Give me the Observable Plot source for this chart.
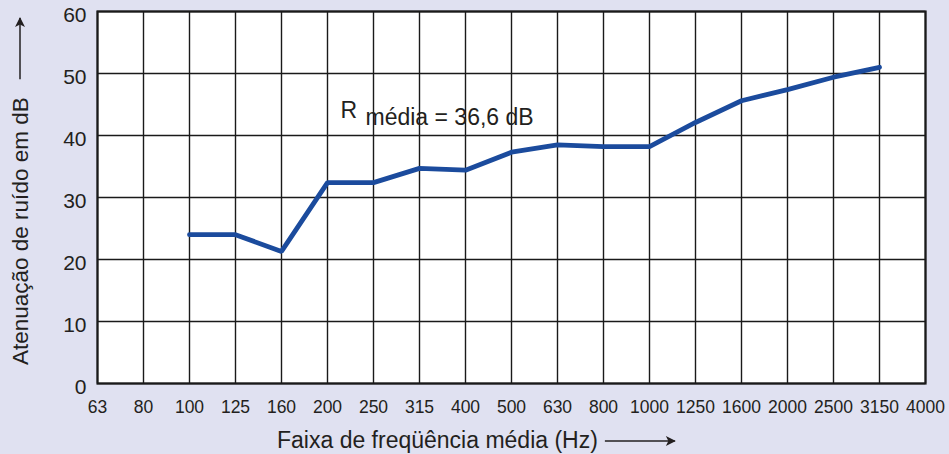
<!DOCTYPE html>
<html>
<head>
<meta charset="utf-8">
<script src="https://cdn.jsdelivr.net/npm/d3@7"></script>
<script src="https://cdn.jsdelivr.net/npm/@observablehq/plot@0.6"></script>
<style>
  html, body { margin: 0; padding: 0; background: #e0e1f1; overflow: hidden; }
  #chart svg { display: block; }
</style>
</head>
<body>
<div id="chart"></div>
<script>
// Frequency bands (Hz) shown on the x axis
const freqs = ["63","80","100","125","160","200","250","315","400","500","630","800","1000","1250","1600","2000","2500","3150","4000"];
// Bands that have measurements
const measuredFreqs = ["100","125","160","200","250","315","400","500","630","800","1000","1250","1600","2000","2500","3150"];
// Noise attenuation (dB)
const attenuation = [24.0,24.0,21.3,32.4,32.4,34.7,34.4,37.3,38.5,38.2,38.2,42.1,45.6,47.4,49.4,51.0];
// Y tick values
const yTicks = [0,10,20,30,40,50,60];
// Texts
const xTitle = "Faixa de freqüência média (Hz)";
const yTitle = "Atenuação de ruído em dB";
const annotMain = "R";
const annotSub = "média = 36,6 dB";
const annotFreq = "200";
const annotValue = [42.8, 41.7];

const data = measuredFreqs.map((f, i) => ({freq: f, db: attenuation[i]}));

const ink = "#231f20";
const font = "'Liberation Sans', Arial, Helvetica, sans-serif";

const chart = Plot.plot({
  width: 949,
  height: 454,
  marginLeft: 97,
  marginRight: 24,
  marginTop: 11,
  marginBottom: 71,
  style: {background: "transparent", fontFamily: font, color: ink},
  x: {type: "point", domain: freqs, padding: 0},
  y: {domain: [0, 60]},
  marks: [
    Plot.frame({fill: "white"}),
    Plot.gridX(freqs, {stroke: "#1a1a1a", strokeOpacity: 1, strokeWidth: 1.4}),
    Plot.gridY(yTicks, {stroke: "#1a1a1a", strokeOpacity: 1, strokeWidth: 1.4}),
    Plot.line(data, {x: "freq", y: "db", stroke: "#1b4b9d", strokeWidth: 4.8, strokeLinejoin: "miter"}),
    Plot.text([annotMain], {x: [annotFreq], y: [annotValue[0]], text: d => d, textAnchor: "start", dx: 13, fontSize: 23, fill: ink, lineAnchor: "bottom"}),
    Plot.text([annotSub], {x: [annotFreq], y: [annotValue[1]], text: d => d, textAnchor: "start", dx: 38, fontSize: 23, fill: ink, lineAnchor: "bottom"}),
    Plot.frame({stroke: "#1a1a1a", strokeWidth: 2.2}),
    Plot.axisX({tickSize: 0, tickPadding: 17, fontSize: 17.5, label: null, fill: ink}),
    Plot.axisY({ticks: yTicks, tickSize: 0, tickPadding: 11, fontSize: 21, dy: 4, label: null, fill: ink})
  ]
});
document.getElementById("chart").appendChild(chart);

// Axis titles with arrows
const svg = d3.select(chart);
const defs = svg.append("defs");
defs.append("marker")
  .attr("id", "arrowhead")
  .attr("viewBox", "0 0 10 10")
  .attr("refX", 9).attr("refY", 5)
  .attr("markerWidth", 11).attr("markerHeight", 10)
  .attr("markerUnits", "userSpaceOnUse")
  .attr("orient", "auto")
  .append("path").attr("d", "M0,0 L10,5 L0,10 L2.5,5 Z").attr("fill", ink);

const xt = svg.append("text")
  .attr("x", 277).attr("y", 448)
  .attr("text-anchor", "start")
  .attr("font-size", 23).attr("fill", ink)
  .attr("font-family", font)
  .text(xTitle);
const xb = xt.node().getBBox();
svg.append("line")
  .attr("x1", xb.x + xb.width + 7).attr("x2", xb.x + xb.width + 77)
  .attr("y1", 441).attr("y2", 441)
  .attr("stroke", ink).attr("stroke-width", 1.5)
  .attr("marker-end", "url(#arrowhead)");

const yt = svg.append("text")
  .attr("transform", "translate(28,365) rotate(-90)")
  .attr("text-anchor", "start")
  .attr("font-size", 22.5).attr("fill", ink)
  .attr("font-family", font)
  .text(yTitle);
const ylen = yt.node().getComputedTextLength();
svg.append("line")
  .attr("x1", 20).attr("x2", 20)
  .attr("y1", 365 - ylen - 18).attr("y2", 18)
  .attr("stroke", ink).attr("stroke-width", 1.5)
  .attr("marker-end", "url(#arrowhead)");
</script>
</body>
</html>
